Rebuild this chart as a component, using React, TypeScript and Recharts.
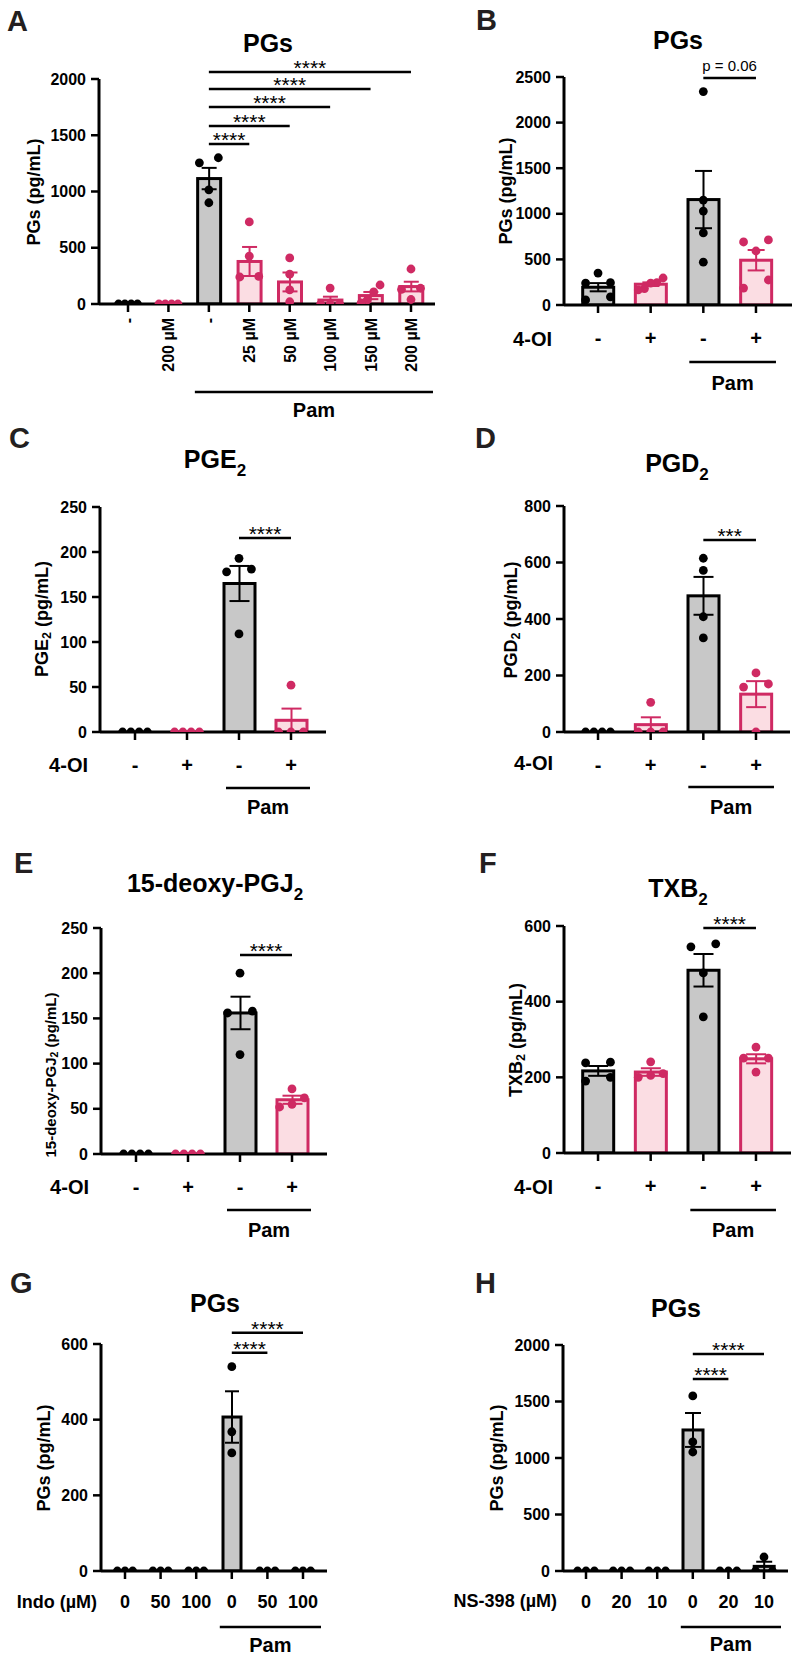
import React from "react";
import { ComposedChart, Bar, ErrorBar, Scatter, XAxis, YAxis, ReferenceLine } from "recharts";

const INK = "#000000";
const GRAY = "#c8c8c8";
const PINK = "#cf2a63";
const PINK_FILL = "#fbdde3";
const LETTER = "#231f20";
const FONT = '"Liberation Sans", Arial, Helvetica, sans-serif';

// A: PGs, 4-OI dose series
const A_LABELS = ["-", "200 µM", "-", "25 µM", "50 µM", "100 µM", "150 µM", "200 µM"];
const A_COLORS = ["k", "p", "k", "p", "p", "p", "p", "p"];
const A_MEAN = [0, 0, 1115, 378, 196, 35, 75, 155];
const A_SEM = [0, 0, 95, 129, 84, 30, 32, 43];
const A_POINTS = [
  [0, 0, 0, 0],
  [0, 0, 0, 0],
  [1300, 1255, 1015, 900],
  [730, 425, 245, 240],
  [410, 265, 125, 20],
  [142, 0, 0, 0],
  [169, 107, 36, 9],
  [311, 140, 130, 40],
];
const A_TICKS = [0, 500, 1000, 1500, 2000];
const A_SIGS = [
  { from: 2, to: 3, y: 1422, text: "****" },
  { from: 2, to: 4, y: 1582, text: "****" },
  { from: 2, to: 5, y: 1751, text: "****" },
  { from: 2, to: 6, y: 1911, text: "****" },
  { from: 2, to: 7, y: 2062, text: "****" },
];

// shared 4-OI categories (B-F)
const OI_LABELS = ["-", "+", "-", "+"];
const OI_COLORS = ["k", "p", "k", "p"];

// B: PGs
const B_MEAN = [195, 228, 1156, 491];
const B_SEM = [45, 20, 314, 112];
const B_POINTS = [
  [350, 245, 240, 90, 55],
  [296, 245, 240, 180, 165],
  [2340, 1150, 1030, 790, 470],
  [713, 691, 592, 274, 186],
];
const B_TICKS = [0, 500, 1000, 1500, 2000, 2500];
const B_SIGS = [{ from: 2, to: 3, y: 2489, text: "p = 0.06" }];

// C: PGE2
const C_MEAN = [0, 0, 165, 13];
const C_SEM = [0, 0, 19.5, 13];
const C_POINTS = [
  [0, 0, 0, 0],
  [0, 0, 0, 0],
  [193, 181, 178, 109],
  [52, 0, 0, 0],
];
const C_TICKS = [0, 50, 100, 150, 200, 250];
const C_SIGS = [{ from: 2, to: 3, y: 215.6, text: "****" }];

// D: PGD2
const D_MEAN = [0, 26, 482, 134];
const D_SEM = [0, 26, 67, 46];
const D_POINTS = [
  [0, 0, 0, 0],
  [105, 0, 0, 0],
  [615, 572, 408, 333],
  [209, 170, 159, 0],
];
const D_TICKS = [0, 200, 400, 600, 800];
const D_SIGS = [{ from: 2, to: 3, y: 680, text: "***" }];

// E: 15-deoxy-PGJ2
const E_MEAN = [0, 0, 156, 60];
const E_SEM = [0, 0, 18, 4.5];
const E_POINTS = [
  [0, 0, 0, 0],
  [0, 0, 0, 0],
  [200, 158, 156, 110],
  [72, 62, 55, 52],
];
const E_TICKS = [0, 50, 100, 150, 200, 250];
const E_SIGS = [{ from: 2, to: 3, y: 220, text: "****" }];

// F: TXB2
const F_MEAN = [217, 214, 483, 249];
const F_SEM = [13, 10, 43, 12];
const F_POINTS = [
  [240, 238, 200, 190],
  [241, 210, 205, 200],
  [553, 545, 476, 360],
  [280, 251, 251, 214],
];
const F_TICKS = [0, 200, 400, 600];
const F_SIGS = [{ from: 2, to: 3, y: 595, text: "****" }];

// G: PGs, indomethacin
const G_LABELS = ["0", "50", "100", "0", "50", "100"];
const G_MEAN = [0, 0, 0, 407, 0, 0];
const G_SEM = [0, 0, 0, 68, 0, 0];
const G_POINTS = [[0, 0, 0], [0, 0, 0], [0, 0, 0], [540, 368, 312], [0, 0, 0], [0, 0, 0]];
const G_TICKS = [0, 200, 400, 600];
const G_SIGS = [
  { from: 3, to: 4, y: 577, text: "****" },
  { from: 3, to: 5, y: 630, text: "****" },
];

// H: PGs, NS-398
const H_LABELS = ["0", "20", "10", "0", "20", "10"];
const H_MEAN = [0, 0, 0, 1248, 0, 41];
const H_SEM = [0, 0, 0, 150, 0, 41];
const H_POINTS = [[0, 0, 0], [0, 0, 0], [0, 0, 0], [1549, 1142, 1053], [0, 0, 0], [124, 0, 0]];
const H_TICKS = [0, 500, 1000, 1500, 2000];
const H_SIGS = [
  { from: 3, to: 4, y: 1699, text: "****" },
  { from: 3, to: 5, y: 1920, text: "****" },
];

const BLACK6 = ["k", "k", "k", "k", "k", "k"];

const YW = 70;
const MT = 45;
const MR = 10;
const XH = 120;

const PANELS: any[] = [
  {
    key: "A", labels: A_LABELS, colors: A_COLORS, mean: A_MEAN, sem: A_SEM, points: A_POINTS,
    yMax: 2000, ticks: A_TICKS, sigs: A_SIGS, rotated: true,
    L: { left: 99, right: 435, top: 79, bottom: 304, padL: 8.8, padR: 3.8, barSize: 23, cap: 7.5 },
    letter: [7, 31], title: { x: 268, y: 52, text: "PGs" },
    yLabel: { x: 34, y: 192, pre: "PGs (pg/mL)", size: 18 },
    pam: { from: 2, to: 7, lineDy: 88, textDy: 113, l: 14, r: 22 },
  },
  {
    key: "B", labels: OI_LABELS, colors: OI_COLORS, mean: B_MEAN, sem: B_SEM, points: B_POINTS,
    yMax: 2500, ticks: B_TICKS, sigs: B_SIGS, tickFont: 20, tickDy: 40,
    L: { left: 564, right: 792, top: 77, bottom: 305, padL: 7.7, padR: 9.7, barSize: 31, cap: 8.5 },
    letter: [476, 30], title: { x: 678, y: 49, text: "PGs" },
    yLabel: { x: 506, y: 191, pre: "PGs (pg/mL)", size: 18 },
    row: { x: 552, y: 346, text: "4-OI" },
    pam: { from: 2, to: 3, lineDy: 57, textDy: 85, l: 14, r: 20 },
  },
  {
    key: "C", labels: OI_LABELS, colors: OI_COLORS, mean: C_MEAN, sem: C_SEM, points: C_POINTS,
    yMax: 250, ticks: C_TICKS, sigs: C_SIGS, tickFont: 20, tickDy: 40,
    L: { left: 100, right: 326, top: 507, bottom: 732, padL: 9, padR: 9, barSize: 31, cap: 10 },
    letter: [9, 448], title: { x: 215, y: 468, text: "PGE", sub: "2" },
    yLabel: { x: 42, y: 619, pre: "PGE", sub: "2", post: " (pg/mL)", size: 18 },
    row: { x: 88, y: 772, text: "4-OI" },
    pam: { from: 2, to: 3, lineDy: 56, textDy: 82, l: 13, r: 19 },
  },
  {
    key: "D", labels: OI_LABELS, colors: OI_COLORS, mean: D_MEAN, sem: D_SEM, points: D_POINTS,
    yMax: 800, ticks: D_TICKS, sigs: D_SIGS, tickFont: 20, tickDy: 40,
    L: { left: 564, right: 790, top: 506, bottom: 732, padL: 7.7, padR: 7.7, barSize: 31, cap: 10 },
    letter: [475, 448], title: { x: 677, y: 472, text: "PGD", sub: "2" },
    yLabel: { x: 511, y: 620, pre: "PGD", sub: "2", post: " (pg/mL)", size: 18 },
    row: { x: 553, y: 770, text: "4-OI" },
    pam: { from: 2, to: 3, lineDy: 55, textDy: 82, l: 15, r: 18 },
  },
  {
    key: "E", labels: OI_LABELS, colors: OI_COLORS, mean: E_MEAN, sem: E_SEM, points: E_POINTS,
    yMax: 250, ticks: E_TICKS, sigs: E_SIGS, tickFont: 20, tickDy: 40,
    L: { left: 101, right: 327, top: 928, bottom: 1154, padL: 9, padR: 9, barSize: 31, cap: 10 },
    letter: [14, 873], title: { x: 215, y: 892, text: "15-deoxy-PGJ", sub: "2" },
    yLabel: { x: 50, y: 1075, pre: "15-deoxy-PGJ", sub: "2", post: " (pg/mL)", size: 15 },
    row: { x: 89, y: 1194, text: "4-OI" },
    pam: { from: 2, to: 3, lineDy: 56, textDy: 83, l: 13, r: 19 },
  },
  {
    key: "F", labels: OI_LABELS, colors: OI_COLORS, mean: F_MEAN, sem: F_SEM, points: F_POINTS,
    yMax: 600, ticks: F_TICKS, sigs: F_SIGS, tickFont: 20, tickDy: 40,
    L: { left: 564, right: 791, top: 926, bottom: 1153, padL: 7.7, padR: 8.7, barSize: 31, cap: 10 },
    letter: [479, 873], title: { x: 678, y: 897, text: "TXB", sub: "2" },
    yLabel: { x: 516, y: 1040, pre: "TXB", sub: "2", post: " (pg/mL)", size: 18 },
    row: { x: 553, y: 1194, text: "4-OI" },
    pam: { from: 2, to: 3, lineDy: 57, textDy: 84, l: 13, r: 20 },
  },
  {
    key: "G", labels: G_LABELS, colors: BLACK6, mean: G_MEAN, sem: G_SEM, points: G_POINTS,
    yMax: 600, ticks: G_TICKS, sigs: G_SIGS, tickFont: 18, tickDy: 37,
    L: { left: 101, right: 327, top: 1344, bottom: 1571, padL: 6.2, padR: 6.2, barSize: 18, cap: 7 },
    letter: [10, 1293], title: { x: 215, y: 1312, text: "PGs" },
    yLabel: { x: 44, y: 1458, pre: "PGs (pg/mL)", size: 18 },
    row: { x: 97, y: 1608, text: "Indo (µM)", size: 18 },
    pam: { from: 3, to: 5, lineDy: 56, textDy: 81, l: 12, r: 18 },
  },
  {
    key: "H", labels: H_LABELS, colors: BLACK6, mean: H_MEAN, sem: H_SEM, points: H_POINTS,
    yMax: 2000, ticks: H_TICKS, sigs: H_SIGS, tickFont: 18, tickDy: 37,
    L: { left: 563, right: 788, top: 1345, bottom: 1571, padL: 5.2, padR: 6.2, barSize: 20, cap: 8 },
    letter: [475, 1293], title: { x: 676, y: 1317, text: "PGs" },
    yLabel: { x: 497, y: 1458, pre: "PGs (pg/mL)", size: 18 },
    row: { x: 557, y: 1607, text: "NS-398 (µM)", size: 18 },
    pam: { from: 3, to: 5, lineDy: 56, textDy: 80, l: 12, r: 17 },
  },
];

// GraphPad-like horizontal spreading of points that would overlap
function swarm(vals: number[], pxPerUnit: number, span: number, diam: number) {
  const order = vals.map((_, i) => i).sort((a, b) => vals[a] - vals[b]);
  const out = vals.map(() => 0);
  let group: number[] = [];
  const flush = () => {
    const k = group.length;
    group.forEach((idx, j) => {
      out[idx] = k > 1 ? (j - (k - 1) / 2) * (span / (k - 1)) : 0;
    });
    group = [];
  };
  order.forEach((idx, n) => {
    if (n > 0 && (vals[idx] - vals[order[n - 1]]) * pxPerUnit >= diam) flush();
    group.push(idx);
  });
  flush();
  return out;
}

function buildRows(p: any) {
  const plotH = p.L.bottom - p.L.top;
  const pxPerUnit = plotH / p.yMax;
  const span = 0.73 * (p.L.barSize + 3);
  return p.labels.map((_: string, i: number) => {
    const pts: number[] = p.points[i];
    const row: any = {
      id: p.key + i,
      c: p.colors[i],
      mean: p.mean[i],
      semK: p.colors[i] === "k" && p.sem[i] > 0 ? p.sem[i] : undefined,
      semP: p.colors[i] === "p" && p.sem[i] > 0 ? p.sem[i] : undefined,
      dx: swarm(pts, pxPerUnit, span, 9),
    };
    pts.forEach((v, k) => (row["p" + k] = v));
    return row;
  });
}

const barShape = (props: any) => {
  const { x, y, width, height, payload } = props;
  if (!height || height < 0.5) return <g />;
  const black = payload.c === "k";
  return (
    <rect
      x={x}
      y={y}
      width={width}
      height={height}
      fill={black ? GRAY : PINK_FILL}
      stroke={black ? INK : PINK}
      strokeWidth={3}
    />
  );
};

const dotShape = (k: number) => (props: any) => {
  const { cx, cy, payload } = props;
  if (!payload || payload["p" + k] == null || cx == null || cy == null || Number.isNaN(cy)) return <g />;
  return <circle cx={cx + payload.dx[k]} cy={cy} r={4.4} fill={payload.c === "k" ? INK : PINK} />;
};

function makeTick(p: any, axisY: number) {
  return (props: any) => {
    const i = p.labels.findIndex((_: string, j: number) => p.key + j === props.payload.value);
    const label = p.labels[i];
    if (p.rotated) {
      const x = props.x + 6;
      const y = axisY + 14;
      return (
        <text x={x} y={y} transform={`rotate(-90 ${x} ${y})`} textAnchor="end" fontSize={16} fontWeight={700} fill={INK}>
          {label}
        </text>
      );
    }
    return (
      <text x={props.x} y={axisY + p.tickDy} textAnchor="middle" fontSize={p.tickFont} fontWeight={700} fill={INK}>
        {label}
      </text>
    );
  };
}

function Panel({ p }: { p: any }) {
  const L = p.L;
  const plotH = L.bottom - L.top;
  const plotW = L.right - L.left;
  const rows = buildRows(p);
  const nPts = Math.max(...p.points.map((a: number[]) => a.length));
  return (
    <div style={{ position: "absolute", left: L.left - YW, top: L.top - MT }}>
      <ComposedChart
        width={YW + plotW + MR}
        height={MT + plotH + XH}
        data={rows}
        margin={{ top: MT, right: MR, bottom: 0, left: 0 }}
      >
        <XAxis
          dataKey="id"
          type="category"
          interval={0}
          height={XH}
          padding={{ left: L.padL, right: L.padR }}
          tickSize={8}
          tick={makeTick(p, MT + plotH)}
          axisLine={{ stroke: INK, strokeWidth: 3 }}
          tickLine={{ stroke: INK, strokeWidth: 2.5 }}
        />
        <YAxis
          type="number"
          domain={[0, p.yMax]}
          ticks={p.ticks}
          interval={0}
          allowDataOverflow
          width={YW}
          tickSize={8}
          tickMargin={5}
          tick={{ fontSize: 16, fontWeight: 700, fill: INK }}
          axisLine={{ stroke: INK, strokeWidth: 3 }}
          tickLine={{ stroke: INK, strokeWidth: 2.5 }}
        />
        <Bar dataKey="mean" barSize={L.barSize} shape={barShape} isAnimationActive={false}>
          <ErrorBar dataKey="semK" width={L.cap} stroke={INK} strokeWidth={2} />
          <ErrorBar dataKey="semP" width={L.cap} stroke={PINK} strokeWidth={2} />
        </Bar>
        {Array.from({ length: nPts }, (_, k) => (
          <Scatter key={k} dataKey={"p" + k} shape={dotShape(k)} isAnimationActive={false} />
        ))}
        {p.sigs.map((s: any, j: number) => {
          const isP = s.text.startsWith("p");
          return (
            <ReferenceLine
              key={j}
              segment={[
                { x: p.key + s.from, y: s.y },
                { x: p.key + s.to, y: s.y },
              ]}
              ifOverflow="visible"
              stroke={INK}
              strokeWidth={2.5}
              label={{
                value: s.text,
                position: "top",
                offset: isP ? 7 : -3,
                fontSize: isP ? 15 : 21,
                fill: INK,
              }}
            />
          );
        })}
      </ComposedChart>
    </div>
  );
}

function Decor({ p }: { p: any }) {
  const L = p.L;
  const n = p.labels.length;
  const band = (L.right - L.left - L.padL - L.padR) / n;
  const center = (i: number) => L.left + L.padL + (i + 0.5) * band;
  const x1 = center(p.pam.from) - p.pam.l;
  const x2 = center(p.pam.to) + p.pam.r;
  const yl = p.yLabel;
  return (
    <g fontFamily={FONT} fontWeight={700} fill={INK}>
      <text x={p.letter[0]} y={p.letter[1]} fontSize={29} fill={LETTER}>
        {p.key}
      </text>
      <text x={p.title.x} y={p.title.y} textAnchor="middle" fontSize={25}>
        {p.title.text}
        {p.title.sub && (
          <tspan dy={8} fontSize={17}>
            {p.title.sub}
          </tspan>
        )}
      </text>
      <text
        x={yl.x}
        y={yl.y}
        transform={`rotate(-90 ${yl.x} ${yl.y})`}
        textAnchor="middle"
        dominantBaseline="central"
        fontSize={yl.size}
      >
        {yl.pre}
        {yl.sub && (
          <tspan dy={yl.size * 0.28} fontSize={yl.size * 0.7}>
            {yl.sub}
          </tspan>
        )}
        {yl.post && <tspan dy={-yl.size * 0.28}>{yl.post}</tspan>}
      </text>
      {p.row && (
        <text x={p.row.x} y={p.row.y} textAnchor="end" fontSize={p.row.size || 20}>
          {p.row.text}
        </text>
      )}
      <line x1={x1} x2={x2} y1={L.bottom + p.pam.lineDy} y2={L.bottom + p.pam.lineDy} stroke={INK} strokeWidth={2.5} />
      <text x={(x1 + x2) / 2} y={L.bottom + p.pam.textDy} textAnchor="middle" fontSize={20}>
        Pam
      </text>
    </g>
  );
}

export default function App() {
  return (
    <div
      style={{
        position: "absolute",
        left: 0,
        top: 0,
        width: 800,
        height: 1659,
        overflow: "hidden",
        background: "#ffffff",
        fontFamily: FONT,
      }}
    >
      {PANELS.map((p) => (
        <Panel key={p.key} p={p} />
      ))}
      <svg width={800} height={1659} style={{ position: "absolute", left: 0, top: 0, pointerEvents: "none" }}>
        {PANELS.map((p) => (
          <Decor key={p.key} p={p} />
        ))}
      </svg>
    </div>
  );
}
